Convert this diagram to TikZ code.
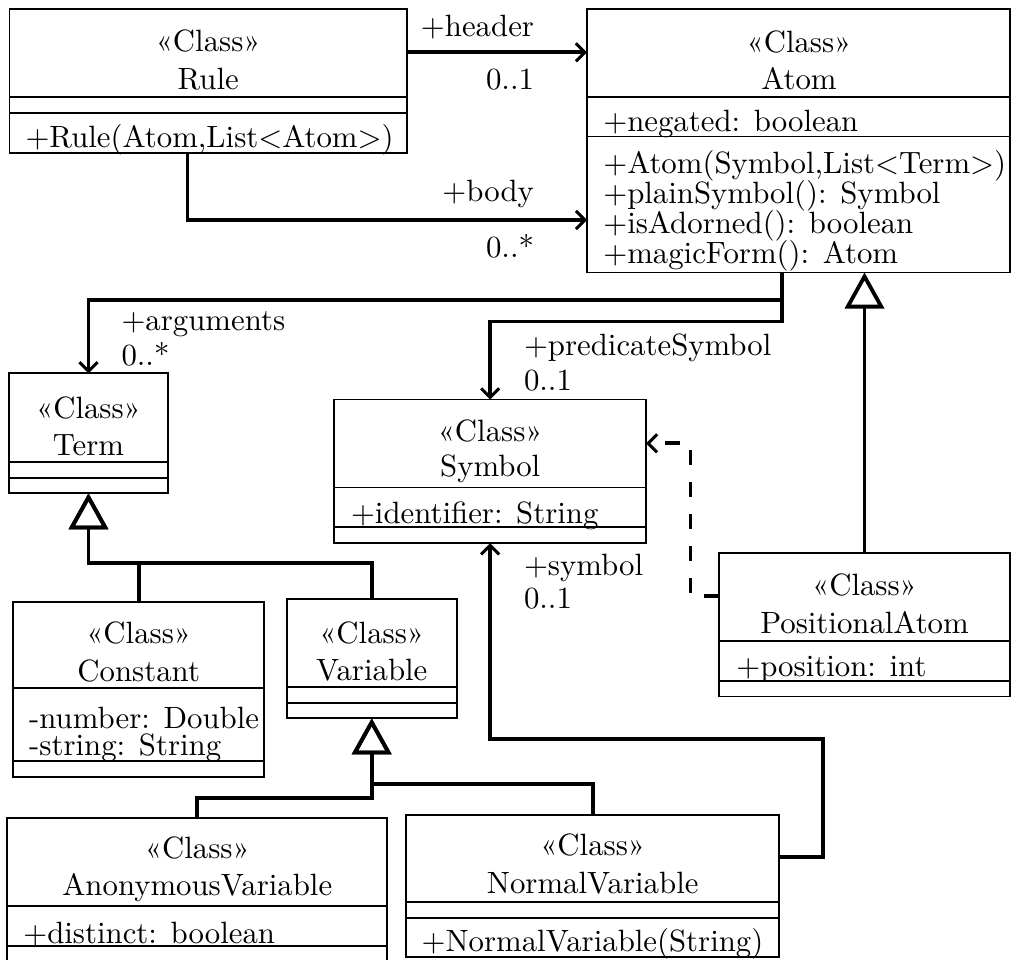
\documentclass[tikz,border=0pt]{standalone}
\usetikzlibrary{arrows.meta}
\begin{document}
\begin{tikzpicture}[x=1pt,y=-1pt,
  font={\fontsize{10}{12}\selectfont},
  classbox/.style={draw, line width=1.7pt, inner sep=0pt, outer sep=0pt},
  sepline/.style={line width=1.7pt},
  txt/.style={inner sep=0pt, outer sep=0pt, scale=3.08},
  stereo/.style={txt, anchor=base},
  member/.style={txt, anchor=base west},
  lbl/.style={txt},
  barb/.style={-{Straight Barb[length=9pt,width=18pt,line width=3pt]}},
  assoc/.style={line width=3.8pt, barb},
  gen/.style={line width=3.8pt, -{Triangle[open,length=36pt,width=39pt,line width=3.8pt]}},
  dep/.style={line width=3.8pt, dash pattern=on 15pt off 17pt, barb}
]
\useasboundingbox (0,0) rectangle (1012,960);

% class box: name, left, top, right, bottom, first separator, second separator
\newcommand\umlbox[7]{%
  \node[classbox, minimum width={(#4-#2)*1pt}, minimum height={(#5-#3)*1pt}]
    (#1) at ({(#2+#4)/2},{(#3+#5)/2}) {};
  \draw[sepline] (#2,#6) -- (#4,#6);
  \draw[sepline] (#2,#7) -- (#4,#7);}

\umlbox{rule}{9.5}{9.3}{407}{153}{97}{113.3}
\umlbox{atom}{587}{9.3}{1010}{272.5}{97.3}{136.5}
\umlbox{term}{9.3}{373.3}{167.7}{493.3}{462.3}{477.7}
\umlbox{symbol}{334.3}{399.5}{646}{543.3}{487.5}{527.3}
\umlbox{posatom}{719}{553.3}{1010}{696.5}{640.7}{680.7}
\umlbox{constant}{13.3}{601.7}{264}{776.7}{688.3}{761}
\umlbox{variable}{286.7}{599.3}{456.7}{718.3}{687.3}{703.3}
\umlbox{anonvar}{7.3}{818.3}{387.3}{962}{905.7}{946}
\umlbox{normvar}{406}{815}{779.3}{957.3}{901.7}{917.7}

% headers and members
\node[stereo] (rule-s) at (208.2,52) {«Class»};
\node[stereo] (rule-n) at (208.2,90) {Rule};
\node[member] (rule-m1) at (25.5,148) {+Rule(Atom,List<Atom>)};

\node[stereo] (atom-s) at (799,52.7) {«Class»};
\node[stereo] (atom-n) at (799,90) {Atom};
\node[member] (atom-a1) at (603.3,131.7) {+negated: boolean};
\node[member] (atom-m1) at (603.3,173.3) {+Atom(Symbol,List<Term>)};
\node[member] (atom-m2) at (603.3,203.3) {+plainSymbol(): Symbol};
\node[member] (atom-m3) at (603.3,233.3) {+isAdorned(): boolean};
\node[member] (atom-m4) at (603.3,263.3) {+magicForm(): Atom};

\node[stereo] (term-s) at (88.5,418.3) {«Class»};
\node[stereo] (term-n) at (88.5,455) {Term};

\node[stereo] (symbol-s) at (490.2,441.7) {«Class»};
\node[stereo] (symbol-n) at (490.2,476.7) {Symbol};
\node[member] (symbol-a1) at (351,523.3) {+identifier: String};

\node[stereo] (posatom-s) at (864.5,595) {«Class»};
\node[stereo] (posatom-n) at (864.5,633.3) {PositionalAtom};
\node[member] (posatom-a1) at (736.3,676) {+position: int};

\node[stereo] (constant-s) at (138.7,643.3) {«Class»};
\node[stereo] (constant-n) at (138.7,681.7) {Constant};
\node[member] (constant-a1) at (29.2,728.3) {-number: Double};
\node[member] (constant-a2) at (29.2,755) {-string: String};

\node[stereo] (variable-s) at (371.7,643.3) {«Class»};
\node[stereo] (variable-n) at (371.7,680) {Variable};

\node[stereo] (anonvar-s) at (197.3,858.3) {«Class»};
\node[stereo] (anonvar-n) at (197.3,895) {AnonymousVariable};
\node[member] (anonvar-a1) at (23.3,943.3) {+distinct: boolean};

\node[stereo] (normvar-s) at (592.7,855) {«Class»};
\node[stereo] (normvar-n) at (592.7,893.3) {NormalVariable};
\node[member] (normvar-m1) at (421.6,951.7) {+NormalVariable(String)};

% associations
\draw[assoc] ([yshift=-43pt]rule.north east) -- ([yshift=-43pt]atom.north west);
\draw[assoc] ([xshift=178pt]rule.south west) |- ([yshift=-210.7pt]atom.north west);
\draw[assoc] ([xshift=195pt]atom.south west) -- ++(0,27.5) -| (term.north);
\draw[assoc] ([xshift=195pt]atom.south west) -- ++(0,49) -| (symbol.north);
\draw[assoc] ([yshift=-41.7pt]normvar.north east) -- ++(44,0) -- ++(0,-117.7) -| (symbol.south);

% dependency
\draw[dep] ([yshift=-42.7pt]posatom.north west) -- ++(-28.6,0) |- ([yshift=-43.8pt]symbol.north east);

% generalizations
\draw[gen] (constant.north) -- ++(0,-38.4) -| (term.south);
\draw[gen] (variable.north) -- ++(0,-36) -| (term.south);
\draw[gen] (normvar.north) -- ++(0,-31) -| (variable.south);
\draw[gen] (anonvar.north) -- ++(0,-20) -| (variable.south);
\draw[gen] (posatom.north) -- (posatom.north |- atom.south);

% association end labels
\node[lbl, anchor=base east] (l-header) at (534,36.7) {+header};
\node[lbl, anchor=base east] (m-header) at (534,89.3) {0..1};
\node[lbl, anchor=base east] (l-body) at (534,201.7) {+body};
\node[lbl, anchor=base east] (m-body) at (534,258) {0..*};
\node[lbl, anchor=base west] (l-args) at (121.5,330) {+arguments};
\node[lbl, anchor=base west] (m-args) at (121.5,365) {0..*};
\node[lbl, anchor=base west] (l-pred) at (524,355) {+predicateSymbol};
\node[lbl, anchor=base west] (m-pred) at (524,390) {0..1};
\node[lbl, anchor=base west] (l-sym) at (524,575) {+symbol};
\node[lbl, anchor=base west] (m-sym) at (524,608.3) {0..1};
\end{tikzpicture}
\end{document}
